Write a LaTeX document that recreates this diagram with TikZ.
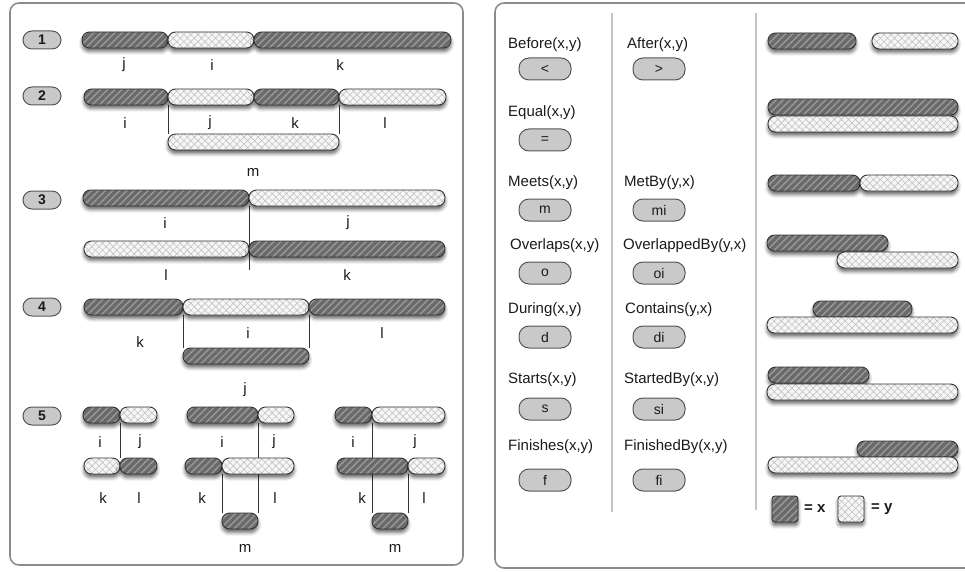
\documentclass[tikz,border=0pt]{standalone}
\usepackage{fontspec}
\setmainfont{Liberation Sans}
\usetikzlibrary{patterns.meta,shadows.blur}
\pgfdeclarelayer{bg}
\pgfsetlayers{bg,main}

\definecolor{hatchfill}{HTML}{6A6A6A}
\definecolor{hatchline}{HTML}{999999}
\definecolor{crossfill}{HTML}{F6F6F6}
\definecolor{crossline}{HTML}{C2C2C2}
\definecolor{barline}{HTML}{333333}
\definecolor{pillfill}{HTML}{C9C9C9}
\definecolor{pillline}{HTML}{555555}
\definecolor{panelline}{HTML}{8C8C8C}
\definecolor{divline}{HTML}{C4C4C4}
\definecolor{txt}{HTML}{1A1A1A}

% a bar from x=#3 to x=#4 centred on y=#5
\newcommand{\mkbar}[5]{\node[#1, minimum width={(#4)-(#3)}] (#2) at (#3,#5) {};}
% a plain text label
\newcommand{\mklbl}[4]{\node[lbl] (#1) at (#2,#3) {#4};}

\tikzset{
  barbase/.style={draw=barline, line width=0.9pt, rounded corners=7.5pt,
    minimum height=16pt, inner sep=0pt, outer sep=0pt, anchor=west,
    blur shadow={shadow xshift=0pt, shadow yshift=-3.5pt,
      shadow blur radius=3.5pt, shadow opacity=60}},
  xbar/.style={barbase, preaction={fill=hatchfill},
    pattern={Lines[angle=45,distance=5pt,line width=1.4pt]},
    pattern color=hatchline},
  ybar/.style={barbase, preaction={fill=crossfill},
    pattern={Hatch[angle=45,distance=5pt,line width=0.6pt]},
    pattern color=crossline},
  lbl/.style={font=\fontsize{15}{18}\selectfont, text=txt, inner sep=0pt},
  rowlbl/.style={font=\fontsize{15}{18}\selectfont, text=txt, inner sep=0pt, anchor=west},
  numpill/.style={draw=pillline, fill=pillfill, line width=1pt,
    rounded corners=9pt, minimum width=38pt, minimum height=18pt,
    inner sep=0pt, font=\bfseries\fontsize{14}{16}\selectfont, text=txt},
  oppill/.style={draw=pillline, fill=pillfill, line width=1pt,
    rounded corners=10pt, minimum width=52pt, minimum height=22pt,
    inner sep=0pt, font=\fontsize{14}{16}\selectfont, text=txt},
  link/.style={draw=barline, line width=1pt},
  panel/.style={draw=panelline, line width=1.6pt, rounded corners=9pt},
  divider/.style={draw=divline, line width=1.6pt},
  legbox/.style={rounded corners=3pt, minimum width=26pt,
    minimum height=26pt, anchor=center},
}

\begin{document}
\begin{tikzpicture}[x=1pt, y=-1pt]
\useasboundingbox (0,0) rectangle (965,572);

% ---------------- left panel: composition cases ----------------
\node[numpill] (n1) at (42,40) {1};
\node[numpill] (n2) at (42,96) {2};
\node[numpill] (n3) at (42,200) {3};
\node[numpill] (n4) at (42,307) {4};
\node[numpill] (n5) at (42,416) {5};

% case 1
\mkbar{xbar}{r1j}{82}{168}{40}
\mkbar{ybar}{r1i}{168}{254}{40}
\mkbar{xbar}{r1k}{254}{451}{40}
\mklbl{t1j}{124}{65}{j}
\mklbl{t1i}{212}{65}{i}
\mklbl{t1k}{340}{65}{k}

% case 2
\mkbar{xbar}{r2i}{84}{168}{97}
\mkbar{ybar}{r2j}{168}{254}{97}
\mkbar{xbar}{r2k}{254}{339}{97}
\mkbar{ybar}{r2l}{339}{446}{97}
\mkbar{ybar}{r2m}{168}{339}{142}
\mklbl{t2i}{125}{123}{i}
\mklbl{t2j}{210}{123}{j}
\mklbl{t2k}{295}{123}{k}
\mklbl{t2l}{385}{123}{l}
\mklbl{t2m}{253}{172}{m}

% case 3
\mkbar{xbar}{r3i}{83}{249}{198}
\mkbar{ybar}{r3j}{249}{445}{198}
\mkbar{ybar}{r3l}{84}{249}{249}
\mkbar{xbar}{r3k}{249}{445}{249}
\coordinate (r3end) at (249,270);
\mklbl{t3i}{165}{223}{i}
\mklbl{t3j}{348}{223}{j}
\mklbl{t3l}{166}{275}{l}
\mklbl{t3k}{347}{275}{k}

% case 4
\mkbar{xbar}{r4k}{84}{183}{307}
\mkbar{ybar}{r4i}{183}{309}{307}
\mkbar{xbar}{r4l}{309}{445}{307}
\mkbar{xbar}{r4j}{183}{309}{356}
\mklbl{t4k}{140}{342}{k}
\mklbl{t4i}{248}{333}{i}
\mklbl{t4l}{382}{333}{l}
\mklbl{t4j}{245}{390}{j}

% case 5, first group
\mkbar{xbar}{r5ai}{83}{120}{415}
\mkbar{ybar}{r5aj}{120}{157}{415}
\mkbar{ybar}{r5ak}{84}{120}{466}
\mkbar{xbar}{r5al}{120}{157}{466}
\mklbl{t5ai}{100}{442}{i}
\mklbl{t5aj}{140}{442}{j}
\mklbl{t5ak}{103}{498}{k}
\mklbl{t5al}{139}{498}{l}

% case 5, second group
\mkbar{xbar}{r5bi}{187}{258}{415}
\mkbar{ybar}{r5bj}{258}{294}{415}
\mkbar{xbar}{r5bk}{185}{222}{466}
\mkbar{ybar}{r5bl}{222}{294}{466}
\mkbar{xbar}{r5bm}{222}{258}{521}
\mklbl{t5bi}{222}{442}{i}
\mklbl{t5bj}{274}{442}{j}
\mklbl{t5bk}{202}{498}{k}
\mklbl{t5bl}{275}{498}{l}
\mklbl{t5bm}{245}{548}{m}

% case 5, third group
\mkbar{xbar}{r5ci}{335}{372}{415}
\mkbar{ybar}{r5cj}{372}{445}{415}
\mkbar{xbar}{r5ck}{337}{408}{466}
\mkbar{ybar}{r5cl}{408}{445}{466}
\mkbar{xbar}{r5cm}{372}{408}{521}
\mklbl{t5ci}{353}{442}{i}
\mklbl{t5cj}{415}{442}{j}
\mklbl{t5ck}{362}{498}{k}
\mklbl{t5cl}{424}{498}{l}
\mklbl{t5cm}{395}{548}{m}

% ---------------- right panel: the thirteen relations ----------------
\node[rowlbl] (lbefore) at (508,45) {Before(x,y)};
\node[rowlbl] (lafter) at (627,45) {After(x,y)};
\node[rowlbl] (lequal) at (508,113) {Equal(x,y)};
\node[rowlbl] (lmeets) at (508,183) {Meets(x,y)};
\node[rowlbl] (lmetby) at (624,183) {MetBy(y,x)};
\node[rowlbl] (loverlaps) at (510,246) {Overlaps(x,y)};
\node[rowlbl] (loverlapped) at (623,246) {OverlappedBy(y,x)};
\node[rowlbl] (lduring) at (508,310) {During(x,y)};
\node[rowlbl] (lcontains) at (625,310) {Contains(y,x)};
\node[rowlbl] (lstarts) at (508,380) {Starts(x,y)};
\node[rowlbl] (lstartedby) at (624,380) {StartedBy(x,y)};
\node[rowlbl] (lfinishes) at (508,447) {Finishes(x,y)};
\node[rowlbl] (lfinishedby) at (624,447) {FinishedBy(x,y)};

\node[oppill] (pbefore) at (545,69) {<};
\node[oppill] (pafter) at (659,69) {>};
\node[oppill] (pequal) at (545,140) {=};
\node[oppill] (pmeets) at (545,210) {m};
\node[oppill] (pmetby) at (659,210) {mi};
\node[oppill] (poverlaps) at (545,273) {o};
\node[oppill] (poverlapped) at (659,273) {oi};
\node[oppill] (pduring) at (545,337) {d};
\node[oppill] (pcontains) at (659,337) {di};
\node[oppill] (pstarts) at (545,409) {s};
\node[oppill] (pstartedby) at (659,409) {si};
\node[oppill] (pfinishes) at (545,480) {f};
\node[oppill] (pfinishedby) at (659,480) {fi};

\mkbar{xbar}{bbx}{768}{856}{41}
\mkbar{ybar}{bby}{872}{958}{41}
\mkbar{xbar}{bex}{768}{958}{107}
\mkbar{ybar}{bey}{768}{958}{124}
\mkbar{xbar}{bmx}{768}{860}{183}
\mkbar{ybar}{bmy}{860}{958}{183}
\mkbar{xbar}{box}{767}{888}{243}
\mkbar{ybar}{boy}{837}{958}{260}
\mkbar{xbar}{bdx}{813}{912}{309}
\mkbar{ybar}{bdy}{767}{958}{325}
\mkbar{xbar}{bsx}{768}{869}{375}
\mkbar{ybar}{bsy}{767}{958}{392}
\mkbar{xbar}{bfx}{857}{958}{449}
\mkbar{ybar}{bfy}{768}{958}{465}

% legend
\node[xbar, legbox] (legx) at (785,509) {};
\node[rowlbl, font=\bfseries\fontsize{15}{18}\selectfont] (legxt) at (804,509) {= x};
\node[ybar, legbox] (legy) at (851,509) {};
\node[rowlbl, font=\bfseries\fontsize{15}{18}\selectfont] (legyt) at (871,509) {= y};

% ---------------- frames, dividers and connectors ----------------
\coordinate (d1top) at (612,13);
\coordinate (d1bot) at (612,512);
\coordinate (d2top) at (756,13);
\coordinate (d2bot) at (756,510);

\begin{pgfonlayer}{bg}
  \draw[panel] (10,3) rectangle (463,565);
  \draw[panel] (495,3) rectangle (985,568);
  \draw[divider] (d1top) -- (d1bot);
  \draw[divider] (d2top) -- (d2bot);

  \draw[link] (r2j.south west) -- (r2m.north west);
  \draw[link] (r2k.south east) -- (r2m.north east);
  \draw[link] (r3i.south east) -- (r3end);
  \draw[link] (r4i.south west) -- (r4j.north west);
  \draw[link] (r4i.south east) -- (r4j.north east);
  \draw[link] (r5ai.south east) -- (r5al.north west);
  \draw[link] (r5bi.south east) -- (r5bm.north east);
  \draw[link] (r5bk.south east) -- (r5bm.north west);
  \draw[link] (r5ci.south east) -- (r5cm.north west);
  \draw[link] (r5ck.south east) -- (r5cm.north east);
\end{pgfonlayer}
\end{tikzpicture}
\end{document}
